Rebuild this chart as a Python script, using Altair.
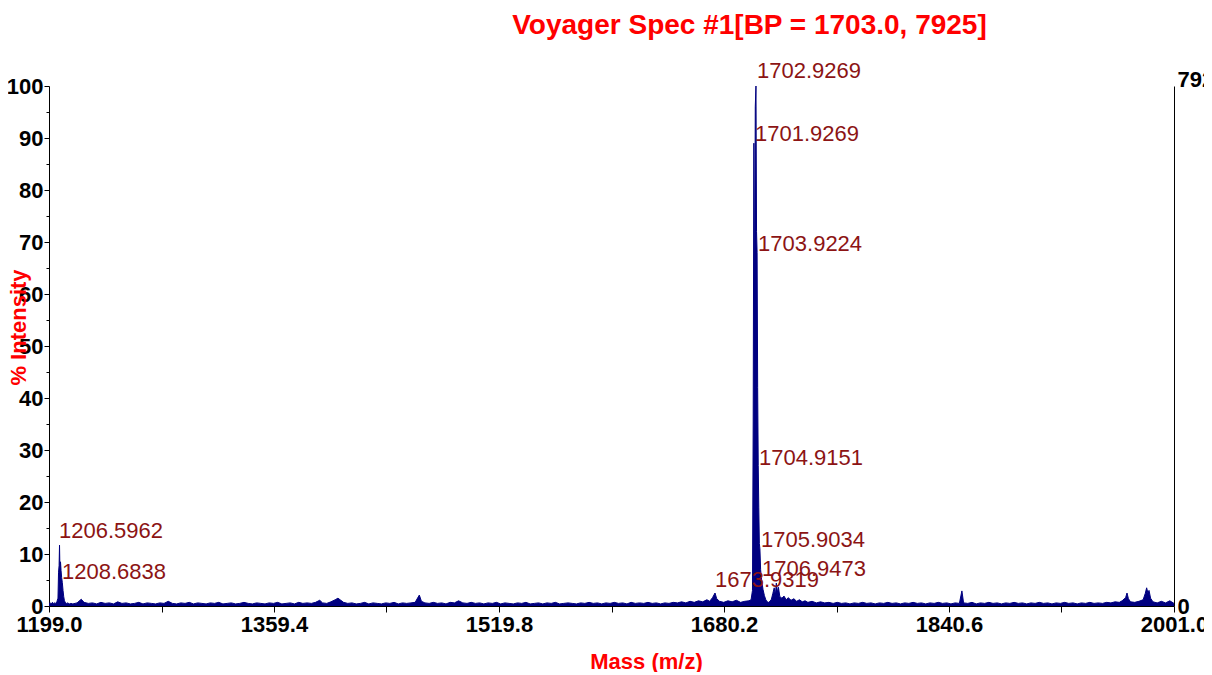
import altair as alt
import pandas as pd

# ---------------- data ----------------
# spectrum: (m/z, % intensity)
seg_low = [
    (1199.0, 0.5), (1199.8, 0.6), (1200.6, 0.4), (1201.4, 0.7), (1202.2, 0.5), (1203.0, 0.6),
    (1203.8, 0.5), (1204.6, 0.8), (1205.4, 1.5), (1205.8, 6.5), (1206.2, 7.8), (1206.5, 11.7),
    (1206.8, 7.0), (1207.2, 8.5), (1207.6, 6.8), (1208.0, 5.5), (1208.5, 4.5), (1209.0, 3.0),
    (1209.5, 1.8), (1210.0, 1.0), (1210.6, 0.7), (1211.4, 0.5), (1212.4, 0.6), (1213.4, 0.4),
    (1214.6, 0.5),
]
seg_baseline_1 = [
    (1216, 0.4), (1219, 0.6), (1222, 1.3), (1224, 0.7), (1227, 0.5), (1230, 0.6), (1233, 0.4),
    (1236, 0.7), (1239, 0.5), (1242, 0.6), (1245, 0.4), (1248, 0.8), (1251, 0.5), (1254, 0.6),
    (1257, 0.4), (1260, 0.5), (1263, 0.7), (1266, 0.4), (1269, 0.6), (1272, 0.5), (1275, 0.4),
    (1278, 0.6), (1281, 0.5), (1284, 0.9), (1287, 0.5), (1290, 0.4), (1293, 0.6), (1296, 0.5),
    (1299, 0.7), (1302, 0.4), (1305, 0.6), (1308, 0.5), (1311, 0.4), (1314, 0.6), (1317, 0.5),
    (1320, 0.7), (1323, 0.4), (1326, 0.5), (1329, 0.6), (1332, 0.4), (1335, 0.5), (1338, 0.7),
    (1341, 0.5), (1344, 0.4), (1347, 0.6), (1350, 0.5), (1353, 0.4), (1356, 0.6), (1359, 0.5),
    (1362, 0.7), (1365, 0.4), (1368, 0.5), (1371, 0.6), (1374, 0.4), (1377, 0.7), (1380, 0.5),
    (1383, 0.6), (1386, 0.5), (1389, 0.7), (1392, 1.1), (1394, 0.6), (1397, 0.5), (1400, 0.8),
    (1403, 1.2), (1405, 1.5), (1407, 1.1), (1409, 0.7), (1412, 0.5), (1415, 0.6), (1418, 0.4),
    (1421, 0.5), (1424, 0.7), (1427, 0.4), (1430, 0.6), (1433, 0.5), (1436, 0.4), (1439, 0.6),
    (1442, 0.5), (1445, 0.7), (1448, 0.4), (1451, 0.6), (1454, 0.5), (1457, 0.6), (1460, 0.7),
    (1463, 2.1), (1464.5, 0.9), (1467, 0.6), (1470, 0.5), (1473, 0.7), (1476, 0.5), (1479, 0.6),
    (1482, 0.4), (1485, 0.7), (1488, 0.6), (1491, 1.0), (1494, 0.6), (1497, 0.5), (1500, 0.7),
]
seg_baseline_2 = [
    (1503, 0.5), (1506, 0.6), (1509, 0.4), (1512, 0.6), (1515, 0.5), (1518, 0.7), (1521, 0.4),
    (1524, 0.6), (1527, 0.5), (1530, 0.4), (1533, 0.6), (1536, 0.5), (1539, 0.7), (1542, 0.4),
    (1545, 0.5), (1548, 0.6), (1551, 0.4), (1554, 0.6), (1557, 0.5), (1560, 0.7), (1563, 0.4),
    (1566, 0.5), (1569, 0.6), (1572, 0.5), (1575, 0.4), (1578, 0.6), (1581, 0.5), (1584, 0.7),
    (1587, 0.5), (1590, 0.6), (1593, 0.4), (1596, 0.6), (1599, 0.5), (1602, 0.7), (1605, 0.5),
    (1608, 0.6), (1611, 0.4), (1614, 0.7), (1617, 0.5), (1620, 0.6), (1623, 0.5), (1626, 0.7),
    (1629, 0.5), (1632, 0.6), (1635, 0.4), (1638, 0.6), (1641, 0.5), (1644, 0.7), (1647, 0.6),
    (1650, 0.8), (1653, 0.6), (1656, 0.9), (1659, 0.7), (1662, 1.0), (1665, 0.8), (1668, 1.2),
    (1670, 0.9), (1672, 1.6), (1673.8, 2.5), (1675, 1.4), (1677, 0.9), (1680, 0.7), (1683, 1.0),
    (1686, 0.8), (1689, 1.1), (1692, 0.7), (1695, 0.9), (1698, 1.0), (1699.5, 1.2),
]
seg_main = [
    (1700.5, 3.0), (1701.0, 35.0), (1701.5, 89.0), (1702.0, 55.0), (1702.5, 96.0), (1703.0, 100.0),
    (1703.4, 72.0), (1703.8, 68.0), (1704.2, 42.0), (1704.6, 27.0), (1705.0, 19.0), (1705.4, 12.0),
    (1705.8, 11.0), (1706.3, 7.0), (1706.8, 5.5), (1707.3, 4.5), (1708.0, 3.2), (1709.0, 2.0),
    (1710.0, 1.2), (1711.0, 0.8), (1712.0, 0.7), (1713.0, 0.9), (1714.0, 1.3), (1715.0, 2.4),
    (1716.0, 3.5), (1716.8, 2.0), (1717.5, 4.4), (1718.3, 2.6), (1719.0, 3.6), (1720.0, 1.8),
    (1721.5, 1.5), (1723.0, 1.9), (1724.5, 1.2), (1726.0, 1.6), (1728.0, 1.1), (1730.0, 1.4),
    (1732.0, 0.9), (1734.0, 1.2), (1736.0, 0.8), (1738.0, 1.0), (1740.0, 0.7),
]
seg_high = [
    (1743, 0.9), (1746, 0.6), (1749, 0.8), (1752, 0.6), (1755, 0.7), (1758, 0.5), (1761, 0.7),
    (1764, 0.5), (1767, 0.6), (1770, 0.4), (1773, 0.6), (1776, 0.5), (1779, 0.7), (1782, 0.5),
    (1785, 0.6), (1788, 0.4), (1791, 0.6), (1794, 0.5), (1797, 0.7), (1800, 0.5), (1803, 0.6),
    (1806, 0.4), (1809, 0.6), (1812, 0.5), (1815, 0.7), (1818, 0.5), (1821, 0.6), (1824, 0.4),
    (1827, 0.6), (1830, 0.5), (1833, 0.7), (1836, 0.5), (1839, 0.6), (1842, 0.4), (1845, 0.6),
    (1848, 0.5), (1849.8, 2.9), (1851, 0.6), (1854, 0.5), (1857, 0.7), (1860, 0.4), (1863, 0.6),
    (1866, 0.5), (1869, 0.7), (1872, 0.5), (1875, 0.6), (1878, 0.4), (1881, 0.6), (1884, 0.5),
    (1887, 0.7), (1890, 0.5), (1893, 0.6), (1896, 0.4), (1899, 0.6), (1902, 0.5), (1905, 0.7),
    (1908, 0.5), (1911, 0.6), (1914, 0.4), (1917, 0.6), (1920, 0.5), (1923, 0.7), (1926, 0.5),
    (1929, 0.6), (1932, 0.4), (1935, 0.6), (1938, 0.5), (1941, 0.7), (1944, 0.5), (1947, 0.6),
    (1950, 0.5), (1953, 0.7), (1956, 0.6), (1959, 0.8), (1962, 0.7), (1964, 1.0), (1966.5, 1.6),
    (1967.5, 2.5), (1968.5, 1.4), (1970, 0.8), (1973, 0.7), (1976, 0.9), (1979, 1.2),
    (1980.5, 2.4), (1981.5, 3.5), (1982.3, 2.6), (1983.2, 3.0), (1984.3, 1.5), (1986, 0.8),
    (1989, 0.6), (1992, 0.9), (1995, 0.6), (1998, 1.0), (2001, 0.5),
]

# peak annotations
peak_labels = ["1702.9269", "1701.9269", "1703.9224", "1704.9151", "1705.9034",
               "1706.9473", "1673.9319", "1206.5962", "1208.6838"]
label_mass = [1703.7, 1702.3, 1704.5, 1705.2, 1706.6, 1707.3, 1673.8, 1206.1, 1208.3]
label_pct = [101.5, 89.4, 68.3, 27.1, 11.3, 5.8, 3.7, 13.1, 5.2]

x_ticks = [1199.0, 1279.2, 1359.4, 1439.6, 1519.8, 1600.0, 1680.2, 1760.4, 1840.6, 1920.8, 2001.0]
y_ticks = [0, 5, 10, 15, 20, 25, 30, 35, 40, 45, 50, 55, 60, 65, 70, 75, 80, 85, 90, 95, 100]
right_ticks = [0, 7925]

title_text = "Voyager Spec #1[BP = 1703.0, 7925]"

# ---------------- build tables ----------------
points = seg_low + seg_baseline_1 + seg_baseline_2 + seg_main + seg_high
spec_df = pd.DataFrame(points, columns=["mass", "pct"])
lab_df = pd.DataFrame({"mass": label_mass, "pct": label_pct, "label": peak_labels})
right_df = pd.DataFrame({"counts": right_ticks})

FONT = "Liberation Sans"
NAVY = "#000080"
RED = "#FF0000"
DARKRED = "#8C1414"

x_scale = alt.Scale(domain=[1199.0, 2001.0], nice=False, zero=False)
y_scale = alt.Scale(domain=[0, 100], nice=False)

x_axis = alt.Axis(
    values=x_ticks,
    labelExpr="abs((datum.value - 1199) / 160.4 - round((datum.value - 1199) / 160.4)) < 0.01 ? format(datum.value, '.1f') : ''",
    title="Mass (m/z)", titleColor=RED, titleFont=FONT, titleFontSize=22, titleFontWeight="bold",
    titleX=597, titleY=62, titleBaseline="alphabetic", titleAlign="center",
    labelFont=FONT, labelFontSize=22, labelFontWeight="bold", labelColor="black",
    labelPadding=2, labelOverlap=False, labelBound=False, labelFlush=False,
    tickColor="black", tickSize=6, domainColor="black", grid=False,
)
y_axis = alt.Axis(
    values=y_ticks,
    labelExpr="datum.value % 10 == 0 ? datum.label : ''",
    title="% Intensity", titleColor=RED, titleFont=FONT, titleFontSize=22, titleFontWeight="bold",
    titleX=-24, titleY=241, titleBaseline="alphabetic", titleAlign="center", titleAngle=270,
    labelFont=FONT, labelFontSize=22, labelFontWeight="bold", labelColor="black",
    labelPadding=1, labelOverlap=False, labelBound=False, labelFlush=False,
    tickColor="black", tickSize=alt.condition("datum.value % 10 == 0", alt.value(5), alt.value(3)),
    domainColor="black", grid=False,
)

spectrum = alt.Chart(spec_df).mark_area(
    color=NAVY, opacity=1, line={"color": NAVY, "strokeWidth": 1}, interpolate="linear"
).encode(
    x=alt.X("mass:Q", scale=x_scale, axis=x_axis),
    y=alt.Y("pct:Q", scale=y_scale, axis=y_axis),
)

labels = alt.Chart(lab_df).mark_text(
    align="left", baseline="alphabetic", font=FONT, fontSize=22, color=DARKRED
).encode(
    x=alt.X("mass:Q", scale=x_scale, axis=x_axis),
    y=alt.Y("pct:Q", scale=y_scale, axis=y_axis),
    text="label:N",
)

right_axis = alt.Chart(right_df).mark_point(opacity=0).encode(
    y=alt.Y("counts:Q", scale=alt.Scale(domain=[0, 7925], nice=False),
            axis=alt.Axis(orient="right", values=right_ticks, title=None, format="d",
                          labelFont=FONT, labelFontSize=22, labelFontWeight="bold",
                          labelColor="black", labelPadding=3, labelBound=False,
                          labelFlush=False, labelOverlap=False,
                          labelBaseline=alt.condition("datum.value > 0", alt.value("alphabetic"), alt.value("middle")),
                          tickSize=0, domainColor="black", grid=False)),
)

chart = alt.layer(
    alt.layer(spectrum, labels), right_axis
).resolve_scale(y="independent").properties(
    width=1125, height=520,
    background="white",
    autosize=alt.AutoSizeParams(type="none"),
    padding={"left": 41, "top": 78, "right": 30, "bottom": 66},
    title=alt.TitleParams(title_text, color=RED, font=FONT, fontSize=28, fontWeight="bold",
                          anchor="middle", frame="group", dx=138, offset=20),
).configure_view(stroke="transparent", strokeWidth=0)

chart.save("out.html", embed_options={"renderer": "svg", "actions": False})
